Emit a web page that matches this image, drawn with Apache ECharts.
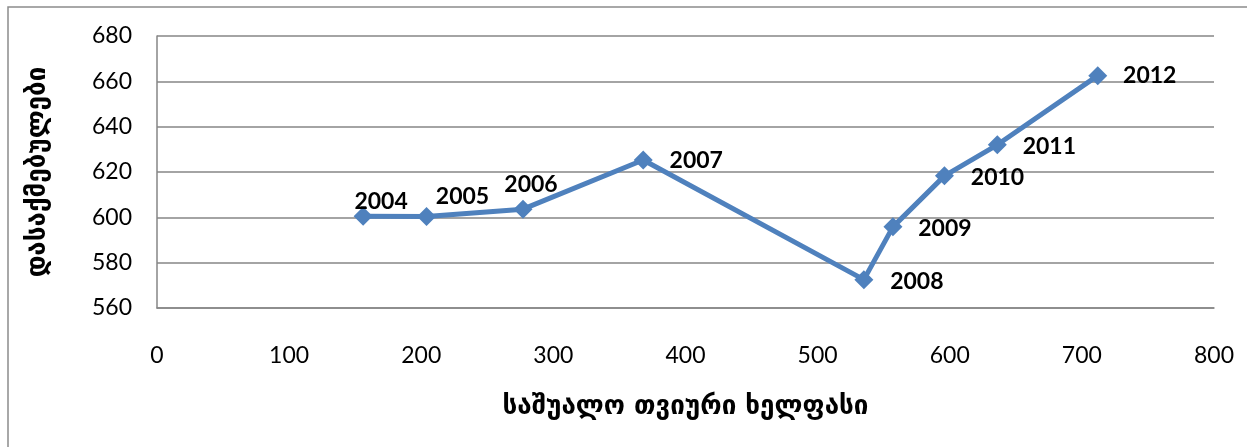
<!DOCTYPE html>
<html>
<head>
<meta charset="utf-8">
<script src="https://cdn.jsdelivr.net/npm/echarts@6/dist/echarts.min.js"></script>
<style>
html,body{margin:0;padding:0;background:#fff;}
#c{width:1247px;height:447px;}
</style>
</head>
<body>
<div id="c"></div>
<script>
const years = ['2004','2005','2006','2007','2008','2009','2010','2011','2012'];
const salary = [156, 204, 277, 368, 535, 557, 596, 636, 712];
const employed = [600.5, 600.4, 603.6, 625.3, 572.5, 595.8, 618.3, 632.0, 662.5];
const labelOffsets = [[18,-15],[36,-20],[8,-25],[53,1],[53,2],[52,2],[53,2],[52,2],[52,0]];
const xTitle = 'საშუალო თვიური ხელფასი';
const yTitle = 'დასაქმებულები';

const data = years.map((y, i) => ({
  value: [salary[i], employed[i]],
  name: y,
  label: { offset: labelOffsets[i] }
}));

const chart = echarts.init(document.getElementById('c'));
chart.setOption({
  animation: false,
  graphic: [{
    type: 'rect',
    shape: { x: 8, y: 7, width: 1300, height: 500 },
    style: { fill: 'none', stroke: '#8c8c8c', lineWidth: 1.5 },
    silent: true
  }],
  grid: { left: 157, right: 33, top: 36, bottom: 139 },
  xAxis: {
    type: 'value', min: 0, max: 800, interval: 100,
    name: xTitle, nameLocation: 'middle', nameGap: 86,
    nameTextStyle: { fontFamily: 'DejaVu Sans', fontWeight: 'bold', fontSize: 26, color: '#000' },
    axisLine: { show: true, lineStyle: { color: '#868686', width: 1.5 } },
    axisTick: { show: false },
    splitLine: { show: false },
    axisLabel: { fontFamily: 'Lato', fontSize: 23, color: '#000', margin: 36 }
  },
  yAxis: {
    type: 'value', min: 560, max: 680, interval: 20,
    name: yTitle, nameLocation: 'middle', nameGap: 106, nameRotate: 90,
    nameTextStyle: { fontFamily: 'DejaVu Sans', fontWeight: 'bold', fontSize: 26, color: '#000' },
    axisLine: { show: true, lineStyle: { color: '#868686', width: 1.5 } },
    axisTick: { show: false },
    splitLine: { show: true, lineStyle: { color: '#868686', width: 1.5 } },
    axisLabel: { fontFamily: 'Lato', fontSize: 23, color: '#000', margin: 25 }
  },
  series: [{
    type: 'line',
    data: data,
    symbol: 'diamond',
    symbolSize: 19,
    lineStyle: { color: '#4F81BD', width: 5 },
    itemStyle: { color: '#4F81BD' },
    label: {
      show: true, position: 'inside',
      formatter: p => p.name,
      fontFamily: 'Lato', fontWeight: 'bold', fontSize: 23, color: '#000'
    }
  }]
});
</script>
</body>
</html>
